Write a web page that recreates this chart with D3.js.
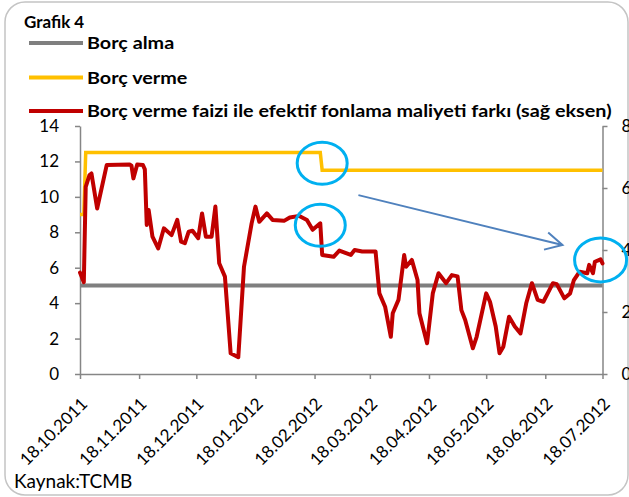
<!DOCTYPE html>
<html>
<head>
<meta charset="utf-8">
<script src="https://cdn.jsdelivr.net/npm/d3@7"></script>
<style>
  body { margin: 0; background: #fff; }
  svg { display: block; font-family: Lato, "Open Sans", sans-serif; }
</style>
</head>
<body>
<svg id="chart"></svg>
<script>
// --- veri ---
const xTickDates = ["2011-10-18", "2011-11-18", "2011-12-18", "2012-01-18", "2012-02-18",
  "2012-03-18", "2012-04-18", "2012-05-18", "2012-06-18", "2012-07-18"];
const leftTicks = [0, 2, 4, 6, 8, 10, 12, 14];
const rightTicks = [0, 2, 4, 6, 8];

// Borç alma faizi (sol eksen)
const borrowDates = ["2011-10-18", "2012-07-18"];
const borrowValues = [5, 5];

// Borç verme faizi (sol eksen)
const lendDates = ["2011-10-18", "2011-10-20", "2011-10-21", "2012-02-21", "2012-02-22", "2012-07-18"];
const lendValues = [9, 9, 12.5, 12.5, 11.5, 11.5];

// Borç verme faizi ile efektif fonlama maliyeti farkı (sağ eksen)
const spreadDates = [
  "2011-10-18", "2011-10-20", "2011-10-21", "2011-10-23", "2011-10-24", "2011-10-27",
  "2011-11-01", "2011-11-13", "2011-11-14", "2011-11-15", "2011-11-17", "2011-11-20",
  "2011-11-21", "2011-11-22", "2011-11-23", "2011-11-24", "2011-11-25", "2011-11-28",
  "2011-12-01", "2011-12-05", "2011-12-08", "2011-12-10", "2011-12-12", "2011-12-14",
  "2011-12-16", "2011-12-19", "2011-12-21", "2011-12-23", "2011-12-26", "2011-12-28",
  "2011-12-30", "2012-01-02", "2012-01-05", "2012-01-09", "2012-01-12", "2012-01-16",
  "2012-01-18", "2012-01-20", "2012-01-24", "2012-01-27", "2012-02-02", "2012-02-05",
  "2012-02-10", "2012-02-14", "2012-02-17", "2012-02-21", "2012-02-22", "2012-02-28",
  "2012-03-02", "2012-03-08", "2012-03-10", "2012-03-14", "2012-03-21", "2012-03-23",
  "2012-03-26", "2012-03-29", "2012-03-30", "2012-04-02", "2012-04-05", "2012-04-06",
  "2012-04-09", "2012-04-12", "2012-04-13", "2012-04-17", "2012-04-20", "2012-04-23",
  "2012-04-27", "2012-04-30", "2012-05-03", "2012-05-05", "2012-05-07", "2012-05-11",
  "2012-05-13", "2012-05-18", "2012-05-20", "2012-05-23", "2012-05-25", "2012-05-27",
  "2012-05-30", "2012-06-02", "2012-06-05", "2012-06-08", "2012-06-11", "2012-06-14",
  "2012-06-17", "2012-06-22", "2012-06-24", "2012-06-28", "2012-07-01", "2012-07-03",
  "2012-07-06", "2012-07-10", "2012-07-11", "2012-07-13", "2012-07-14", "2012-07-17",
  "2012-07-18"];
const spreadValues = [
  3.27, 2.96, 6.04, 6.42, 6.47, 5.34,
  6.74, 6.76, 6.72, 6.31, 6.76, 6.74,
  6.60, 4.81, 5.29, 4.86, 4.43, 4.05,
  4.70, 4.48, 4.97, 4.27, 4.22, 4.59,
  4.62, 4.38, 5.18, 4.43, 4.43, 5.40,
  3.57, 3.14, 0.67, 0.54, 3.46, 4.86,
  5.40, 4.91, 5.18, 4.97, 4.94, 5.05,
  5.10, 4.97, 4.65, 4.86, 3.84, 3.78,
  3.98, 3.84, 4.00, 3.95, 3.95, 2.60,
  2.17, 1.20, 1.96, 2.39, 3.84, 3.46,
  3.68, 3.03, 1.96, 0.99, 2.60, 3.25,
  2.93, 3.19, 3.15, 2.06, 1.74, 0.83,
  1.20, 2.60, 2.33, 1.53, 0.67, 0.88,
  1.85, 1.53, 1.31, 2.28, 2.93, 2.39,
  2.33, 2.93, 2.90, 2.44, 2.60, 3.03,
  3.30, 3.25, 3.52, 3.25, 3.62, 3.70,
  3.57];

const legendLabels = ["Borç alma", "Borç verme",
  "Borç verme faizi ile efektif fonlama maliyeti farkı (sağ eksen)"];
const legendColors = ["#7f7f7f", "#ffc000", "#c00000"];

// --- çizim ---
const width = 629, height = 497;
const parseDate = d3.timeParse("%Y-%m-%d");
const zip = (dates, values) => dates.map((d, i) => ({ date: parseDate(d), value: values[i] }));

const svg = d3.select("#chart").attr("width", width).attr("height", height);

// çerçeve
svg.append("rect")
  .attr("x", 5).attr("y", 2)
  .attr("width", 623).attr("height", 493)
  .attr("rx", 20)
  .attr("fill", "#fff")
  .attr("stroke", "#c4c4c4")
  .attr("stroke-width", 1.5);

const x = d3.scaleTime()
  .domain([parseDate(xTickDates[0]), parseDate(xTickDates[xTickDates.length - 1])])
  .range([80, 602.5]);
const yLeft = d3.scaleLinear().domain([0, 14]).range([374, 126]);
const yRight = d3.scaleLinear().domain([0, 8]).range([374, 126]);

const axisColor = "#868686";

function styleAxis(g) {
  g.selectAll("path.domain").attr("stroke", axisColor).attr("stroke-width", 1.5);
  g.selectAll(".tick line").attr("stroke", axisColor).attr("stroke-width", 1.5);
  g.selectAll(".tick text").attr("fill", "#000").style("font-size", "17px");
}

svg.append("g")
  .attr("transform", "translate(80,0)")
  .call(d3.axisLeft(yLeft).tickValues(leftTicks).tickSize(5).tickSizeOuter(0).tickPadding(16))
  .call(g => g.attr("font-family", null).attr("font-size", null))
  .call(styleAxis);

svg.append("g")
  .attr("transform", "translate(602.5,0)")
  .call(d3.axisRight(yRight).tickValues(rightTicks).tickSize(5).tickSizeOuter(0).tickPadding(14))
  .call(g => g.attr("font-family", null).attr("font-size", null))
  .call(styleAxis);

svg.append("g")
  .attr("transform", "translate(0,374)")
  .call(d3.axisBottom(x)
    .tickValues(xTickDates.map(parseDate))
    .tickFormat(d3.timeFormat("%d.%m.%Y"))
    .tickSize(5).tickSizeOuter(0))
  .call(g => g.attr("font-family", null).attr("font-size", null))
  .call(styleAxis)
  .call(g => g.selectAll(".tick text")
    .attr("x", 0).attr("y", 0).attr("dy", 0)
    .attr("text-anchor", "end")
    .attr("transform", "translate(8,31) rotate(-45)"));

// seriler
const lineLeft = d3.line().x(d => x(d.date)).y(d => yLeft(d.value));
const lineRight = d3.line().x(d => x(d.date)).y(d => yRight(d.value));

svg.append("path")
  .datum(zip(borrowDates, borrowValues))
  .attr("d", lineLeft)
  .attr("fill", "none")
  .attr("stroke", legendColors[0])
  .attr("stroke-width", 4);

svg.append("path")
  .datum(zip(lendDates, lendValues))
  .attr("d", lineLeft)
  .attr("fill", "none")
  .attr("stroke", legendColors[1])
  .attr("stroke-width", 3.5);

svg.append("path")
  .datum(zip(spreadDates, spreadValues))
  .attr("d", lineRight)
  .attr("fill", "none")
  .attr("stroke", legendColors[2])
  .attr("stroke-width", 4)
  .attr("stroke-linejoin", "round")
  .attr("stroke-linecap", "round");

// işaretlemeler (elipsler ve ok)
const marks = svg.append("g").attr("fill", "none");
marks.append("ellipse")
  .attr("cx", x(parseDate("2012-02-22"))).attr("cy", yLeft(11.9))
  .attr("rx", 25).attr("ry", 21)
  .attr("stroke", "#00b0f0").attr("stroke-width", 3);
marks.append("ellipse")
  .attr("cx", x(parseDate("2012-02-21"))).attr("cy", yRight(4.8))
  .attr("rx", 25).attr("ry", 21)
  .attr("stroke", "#00b0f0").attr("stroke-width", 3);
marks.append("ellipse")
  .attr("cx", x(parseDate("2012-07-17"))).attr("cy", yRight(3.68))
  .attr("rx", 26).attr("ry", 22)
  .attr("stroke", "#00b0f0").attr("stroke-width", 3);

const a0 = [x(parseDate("2012-03-12")), yRight(5.77)];
const a1 = [x(parseDate("2012-06-27")), yRight(4.16)];
const ang = Math.atan2(a1[1] - a0[1], a1[0] - a0[0]);
const headLen = 19, headAng = Math.PI / 6.5;
marks.append("line")
  .attr("x1", a0[0]).attr("y1", a0[1]).attr("x2", a1[0]).attr("y2", a1[1])
  .attr("stroke", "#4f81bd").attr("stroke-width", 2);
marks.append("path")
  .attr("d", d3.line()([
    [a1[0] - headLen * Math.cos(ang - headAng), a1[1] - headLen * Math.sin(ang - headAng)],
    a1,
    [a1[0] - headLen * Math.cos(ang + headAng), a1[1] - headLen * Math.sin(ang + headAng)]
  ]))
  .attr("stroke", "#4f81bd").attr("stroke-width", 2);

// başlık ve lejant
svg.append("text")
  .attr("x", 24).attr("y", 28)
  .style("font-size", "17px").style("font-weight", "bold")
  .text("Grafik 4");

const legendY = [43, 77.5, 111];
const legend = svg.append("g");
legendLabels.forEach((label, i) => {
  legend.append("line")
    .attr("x1", 29).attr("x2", 83)
    .attr("y1", legendY[i]).attr("y2", legendY[i])
    .attr("stroke", legendColors[i]).attr("stroke-width", 4);
  legend.append("text")
    .attr("transform", `translate(87,${legendY[i] + 6}) scale(1.13,1)`)
    .style("font-size", "17.5px").style("font-weight", "bold")
    .text(label);
});

svg.append("text")
  .attr("x", 14).attr("y", 488)
  .style("font-size", "19px")
  .text("Kaynak:TCMB");
</script>
</body>
</html>
